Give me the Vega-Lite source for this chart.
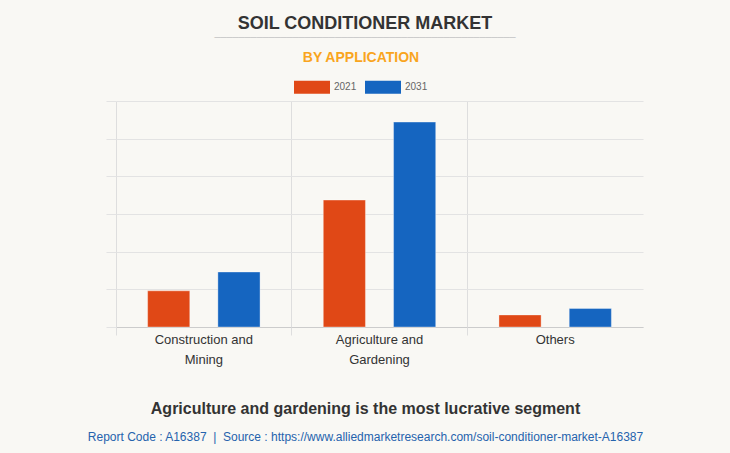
{
  "$schema": "https://vega.github.io/schema/vega-lite/v6.json",
  "width": 527,
  "height": 226,
  "autosize": {"type": "none"},
  "padding": {"left": 116, "top": 101, "right": 87, "bottom": 126},
  "background": "#F9F8F4",
  "title": {
    "text": "SOIL CONDITIONER MARKET",
    "subtitle": "──────────────────────────────────────────────────",
    "anchor": "middle",
    "dx": -14.5,
    "fontSize": 18,
    "font": "Liberation Sans",
    "fontWeight": "bold",
    "color": "#333333",
    "subtitleFont": "DejaVu Sans Mono",
    "subtitleFontSize": 10,
    "subtitleColor": "#c8c8c8",
    "subtitlePadding": 0,
    "offset": 8
  },
  "data": {
    "values": [
      {"application": "Construction and Mining", "year": "2021", "value": 0.96},
      {"application": "Construction and Mining", "year": "2031", "value": 1.46},
      {"application": "Agriculture and Gardening", "year": "2021", "value": 3.37},
      {"application": "Agriculture and Gardening", "year": "2031", "value": 5.44},
      {"application": "Others", "year": "2021", "value": 0.32},
      {"application": "Others", "year": "2031", "value": 0.49}
    ]
  },
  "layer": [
    {
      "mark": {"type": "bar", "stroke": "#ffffff", "strokeOpacity": 0.35, "strokeWidth": 1},
      "encoding": {
        "x": {
          "field": "application",
          "type": "nominal",
          "sort": ["Construction and Mining", "Agriculture and Gardening", "Others"],
          "scale": {"paddingInner": 0, "paddingOuter": 0},
          "axis": {
            "orient": "bottom",
            "title": "Agriculture and gardening is the most lucrative segment",
            "titleFontSize": 16,
            "titleFontWeight": "bold",
            "titleColor": "#333333",
            "titleFont": "Liberation Sans",
            "titleX": 249,
            "titleY": 86,
            "titleBaseline": "alphabetic",
            "titleAlign": "center",
            "labelAngle": 0,
            "labelFont": "Liberation Sans",
            "labelFontSize": 13,
            "labelColor": "#333333",
            "labelLineHeight": 20,
            "labelPadding": 6,
            "labelExpr": "datum.value == 'Others' ? datum.value : [slice(datum.value, 0, indexof(datum.value, ' and ') + 4), slice(datum.value, indexof(datum.value, ' and ') + 5)]",
            "ticks": false,
            "grid": false,
            "domain": true,
            "domainColor": "#cccccc"
          }
        },
        "xOffset": {
          "field": "year",
          "type": "nominal",
          "scale": {"paddingInner": 0.4, "paddingOuter": 0.45}
        },
        "y": {
          "field": "value",
          "type": "quantitative",
          "scale": {"domain": [0, 6], "nice": false},
          "axis": {
            "grid": true,
            "gridColor": "#e3e3e3",
            "ticks": true,
            "tickSize": 10,
            "tickColor": "#e3e3e3",
            "labels": false,
            "domain": false,
            "title": null,
            "values": [0, 1, 2, 3, 4, 5, 6]
          }
        },
        "color": {
          "field": "year",
          "type": "nominal",
          "scale": {"domain": ["2021", "2031"], "range": ["#E04816", "#1565C0"]},
          "legend": {
            "orient": "none",
            "legendX": 178,
            "legendY": -50,
            "direction": "horizontal",
            "title": "BY APPLICATION",
            "titleFont": "Liberation Sans",
            "titleFontSize": 14,
            "titleFontWeight": "bold",
            "titleColor": "#F9A51E",
            "titleOrient": "top",
            "titleAnchor": "middle",
            "titlePadding": 4,
            "symbolType": "M-1,-0.36H1V0.36H-1Z",
            "symbolSize": 1296,
            "symbolStrokeWidth": 0,
            "labelFont": "Liberation Sans",
            "labelFontSize": 10,
            "labelColor": "#666666",
            "labelOffset": 4,
            "columnPadding": 8,
            "padding": 0
          }
        }
      }
    },
    {
      "mark": {"type": "rule", "opacity": 0},
      "encoding": {
        "x": {
          "field": "application",
          "type": "nominal",
          "sort": ["Construction and Mining", "Agriculture and Gardening", "Others"],
          "axis": {
            "orient": "bottom",
            "bandPosition": 0,
            "grid": true,
            "gridColor": "#dedede",
            "ticks": true,
            "tickSize": 8,
            "tickColor": "#dedede",
            "labels": false,
            "domain": false,
            "title": "Report Code : A16387 \u00a0|\u00a0 Source : https://www.alliedmarketresearch.com/soil-conditioner-market-A16387",
            "titleFont": "Liberation Sans",
            "titleFontSize": 12,
            "titleFontWeight": "normal",
            "titleColor": "#2563AD",
            "titleX": 249,
            "titleY": 113,
            "titleBaseline": "alphabetic",
            "titleAlign": "center"
          }
        }
      }
    }
  ],
  "resolve": {"axis": {"x": "independent"}},
  "config": {"view": {"stroke": null}, "font": "Liberation Sans"}
}
